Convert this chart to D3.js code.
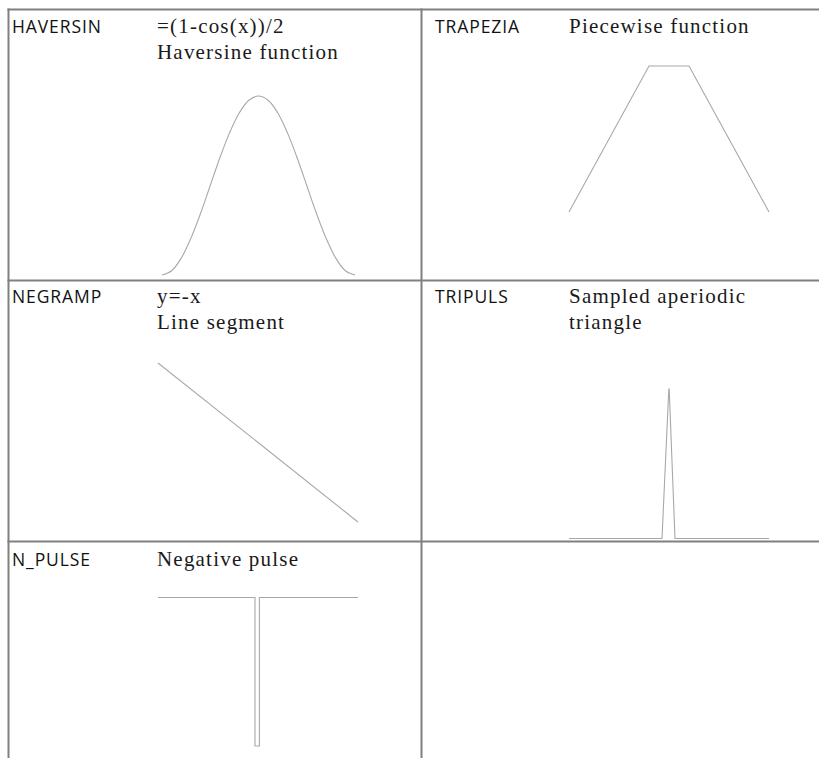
<!DOCTYPE html>
<html><head><meta charset="utf-8">
<script src="https://cdn.jsdelivr.net/npm/d3@7"></script>
<style>body{margin:0;background:#fff}svg{display:block}</style>
</head><body><svg id="c" width="819" height="758"></svg>
<script>
// ---- data ----
const names = ["HAVERSIN","TRAPEZIA","NEGRAMP","TRIPULS","N_PULSE"];
const descriptions = [
  ["=(1-cos(x))/2","Haversine function"],
  ["Piecewise function"],
  ["y=-x","Line segment"],
  ["Sampled aperiodic","triangle"],
  ["Negative pulse"]
];
const haversineX = [0,1,2,3,4,5,6,7,8,9,10,11,12,13,14,15,16,17,18,19,20];
const haversineY = [0,0.024,0.095,0.206,0.345,0.5,0.655,0.794,0.905,0.976,1,0.976,0.905,0.794,0.655,0.5,0.345,0.206,0.095,0.024,0];
const trapeziaX = [0,4,6,10];
const trapeziaY = [0,1,1,0];
const negrampX = [0,1];
const negrampY = [0,-1];
const tripulsX = [0,46.5,49.9,50.1,53,100];
const tripulsY = [0,0,1,1,0,0];
const npulseX = [0,0.485,0.485,0.507,0.507,1];
const npulseY = [0,0,-1,-1,0,0];

// ---- layout ----
const svg = d3.select("#c");
const W = 819, H = 758;
const colX = [8.5, 421.5];
const rowY = [9.5, 280.5, 541.5];
const gridColor = "#808080";

rowY.forEach(y => svg.append("line").attr("x1", colX[0]-1).attr("x2", W).attr("y1", y).attr("y2", y)
  .attr("stroke", gridColor).attr("stroke-width", 2));
colX.forEach(x => svg.append("line").attr("x1", x).attr("x2", x).attr("y1", rowY[0]-1).attr("y2", H)
  .attr("stroke", gridColor).attr("stroke-width", 2));

const cells = [
  {nx: 12, dx: 157, by: 32.5},
  {nx: 435, dx: 569, by: 32.5},
  {nx: 12, dx: 157, by: 303},
  {nx: 435, dx: 569, by: 303},
  {nx: 12, dx: 157, by: 566}
];
cells.forEach((c, i) => {
  svg.append("text").attr("x", c.nx).attr("y", c.by).text(names[i])
    .attr("font-family", "'Open Sans', sans-serif").attr("font-size", 17.5)
    .attr("letter-spacing", 0.9).attr("fill", "#111");
  descriptions[i].forEach((t, j) => {
    svg.append("text").attr("x", c.dx).attr("y", c.by + j*26).text(t)
      .attr("font-family", "'Liberation Serif', serif").attr("font-size", 21)
      .attr("letter-spacing", 1.2).attr("fill", "#1a1a1a");
  });
});

function panel(xs, ys, xDom, yDom, xr, yr, curve) {
  const x = d3.scaleLinear().domain(xDom).range(xr);
  const y = d3.scaleLinear().domain(yDom).range(yr);
  const pts = xs.map((v, i) => [v, ys[i]]);
  const line = d3.line().x(d => x(d[0])).y(d => y(d[1])).curve(curve || d3.curveLinear);
  svg.append("path").attr("d", line(pts)).attr("fill", "none")
    .attr("stroke", "#a8a8a8").attr("stroke-width", 1.1);
}
panel(haversineX, haversineY, [0,20], [0,1], [162,355], [275,96], d3.curveCatmullRom);
panel(trapeziaX, trapeziaY, [0,10], [0,1], [569,769], [212,66]);
panel(negrampX, negrampY, [0,1], [0,-1], [158,358], [363,522]);
panel(tripulsX, tripulsY, [0,100], [0,1], [569,769], [538.5,389]);
panel(npulseX, npulseY, [0,1], [0,-1], [158,358], [597.5,746]);
</script></body></html>
